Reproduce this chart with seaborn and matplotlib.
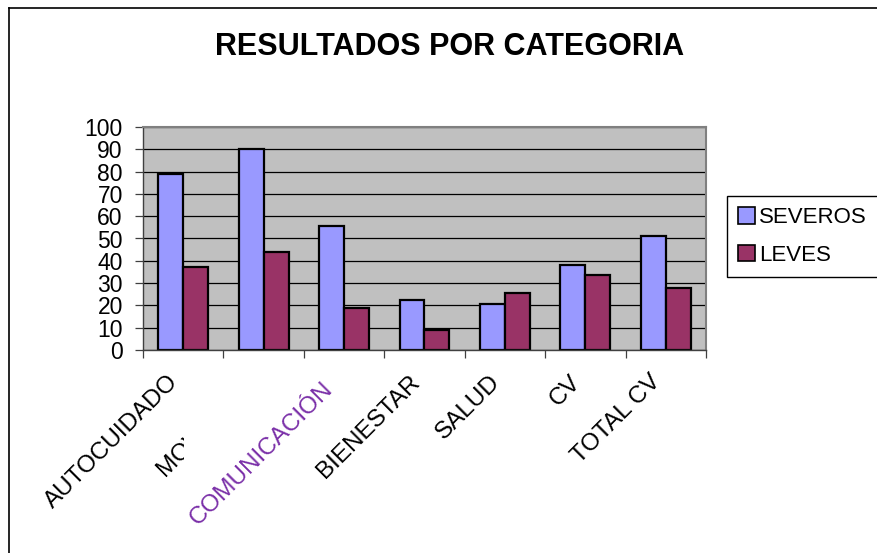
import matplotlib
matplotlib.use("Agg")
import matplotlib.pyplot as plt
import seaborn as sns
import pandas as pd
from matplotlib.lines import Line2D
from matplotlib.patches import Patch
from matplotlib.transforms import Bbox, ScaledTranslation

categorias = ["AUTOCUIDADO", "MOVILIDAD", "COMUNICACIÓN", "BIENESTAR", "SALUD", "CV", "TOTAL CV"]
severos = [79, 90, 55.5, 22.5, 20.5, 38, 51]
leves = [37, 44, 19, 9, 25.5, 33.5, 28]
series = ["SEVEROS", "LEVES"]
colores = ["#9999FF", "#993366"]
y_ticks = list(range(0, 101, 10))

df = pd.DataFrame({
    "categoria": categorias * 2,
    "valor": severos + leves,
    "serie": [series[0]] * len(categorias) + [series[1]] * len(categorias),
})

plt.rcParams["font.family"] = ["Liberation Sans", "DejaVu Sans"]

W, H = 878, 553
fig = plt.figure(figsize=(W / 100, H / 100), dpi=100)
fig.patch.set_facecolor("white")
ax = fig.add_axes([143 / W, 1 - 350 / H, 563 / W, 223 / H])

sns.barplot(data=df, x="categoria", y="valor", hue="serie", hue_order=series,
            palette=colores, width=0.62, saturation=1, errorbar=None,
            edgecolor="black", linewidth=1.6, legend=False, ax=ax)

ax.set_facecolor("#C0C0C0")
ax.set_xlim(-0.5, len(categorias) - 0.5)
ax.set_ylim(0, 100)
ax.set_yticks(y_ticks)
ax.yaxis.grid(True, color="black", linewidth=0.9)
ax.set_axisbelow(True)
ax.set_xlabel("")
ax.set_ylabel("")

for s in ["top", "right"]:
    ax.spines[s].set_color("#808080")
    ax.spines[s].set_linewidth(1.5)
for s in ["left", "bottom"]:
    ax.spines[s].set_color("#404040")
    ax.spines[s].set_linewidth(1.0)

ax.tick_params(axis="y", length=6, width=0.9, color="#404040", pad=8.5, labelsize=16.5)
ax.set_xticks(range(len(categorias)))
ax.set_xticks([i - 0.5 for i in range(len(categorias) + 1)], minor=True)
ax.set_xticklabels(categorias, rotation=45, ha="right", va="top",
                   rotation_mode="anchor", fontsize=17.5)
ax.tick_params(axis="x", which="major", length=0, pad=15)
ax.tick_params(axis="x", which="minor", length=6, width=0.9, color="#404040")

for lab in ax.get_xticklabels():
    dx, dy = -16, 0
    if lab.get_text() == "MOVILIDAD":
        lab.set_clip_box(Bbox([[0, 0], [184, H]]))
        lab.set_clip_on(True)
    if lab.get_text() == "COMUNICACIÓN":
        lab.set_color("#7a2fa8")
        dx, dy = -22, -7
    offset = ScaledTranslation(dx / 100, dy / 100, fig.dpi_scale_trans)
    lab.set_transform(lab.get_transform() + offset)

fig.text(450 / W, 1 - 47 / H, "RESULTADOS POR CATEGORIA", ha="center", va="center",
         fontsize=22, fontweight="bold")

handles = [Patch(facecolor=c, edgecolor="black", linewidth=1.2, label=s)
           for s, c in zip(series, colores)]
leg = fig.legend(handles=handles, loc="upper left", bbox_to_anchor=(727 / W, 1 - 196 / H),
                 frameon=True, fancybox=False, edgecolor="black", framealpha=1,
                 fontsize=16, handlelength=0.75, handleheight=0.75,
                 handletextpad=0.2, labelspacing=0.75, borderpad=0.5, borderaxespad=0)
leg.get_frame().set_linewidth(1.0)

# marco exterior
fig.add_artist(Line2D([8.5 / W, 1], [1 - 7.5 / H, 1 - 7.5 / H], color="black", lw=1.2))
fig.add_artist(Line2D([8.5 / W, 8.5 / W], [0, 1 - 7.5 / H], color="black", lw=1.2))

fig.savefig("out.png", dpi=100)
